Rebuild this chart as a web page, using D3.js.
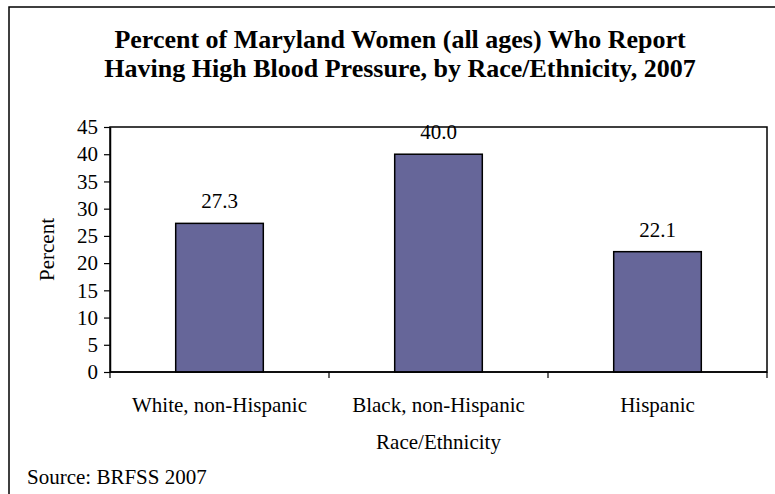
<!DOCTYPE html>
<html>
<head>
<meta charset="utf-8">
<script src="https://cdn.jsdelivr.net/npm/d3@7"></script>
<style>
  html, body { margin: 0; padding: 0; background: #fff; }
  svg text { font-family: "Liberation Serif", "Times New Roman", serif !important; fill: #000; }
</style>
</head>
<body>
<svg id="chart" width="775" height="494" font-family="Liberation Serif, serif"></svg>
<script>
const titleLines = ["Percent of Maryland Women (all ages) Who Report",
                    "Having High Blood Pressure, by Race/Ethnicity, 2007"];
const categories = ["White, non-Hispanic", "Black, non-Hispanic", "Hispanic"];
const values = [27.3, 40.0, 22.1];
const yTicks = [0, 5, 10, 15, 20, 25, 30, 35, 40, 45];
const yLabel = "Percent";
const xLabel = "Race/Ethnicity";
const sourceNote = "Source: BRFSS 2007";

const FONT = '"Liberation Serif", "Times New Roman", serif';
const svg = d3.select("#chart");
const plot = {left: 110, right: 767, top: 127, bottom: 372};

// outer chart frame (extends past right/bottom edges)
svg.append("rect")
  .attr("x", 9).attr("y", 7).attr("width", 820).attr("height", 520)
  .attr("fill", "#fff").attr("stroke", "#000").attr("stroke-width", 1.5);

// title
svg.append("g").selectAll("text").data(titleLines).join("text")
  .attr("x", 400).attr("y", (d, i) => 48 + i * 29)
  .attr("text-anchor", "middle")
  .style("font-family", FONT)
  .style("font-size", "26px").style("font-weight", "bold")
  .text(d => d);

const x = d3.scaleBand().domain(categories).range([plot.left, plot.right]).padding(0);
const y = d3.scaleLinear().domain([0, 45]).range([plot.bottom, plot.top]);

// plot frame
svg.append("rect")
  .attr("x", plot.left).attr("y", plot.top)
  .attr("width", plot.right - plot.left).attr("height", plot.bottom - plot.top)
  .attr("fill", "#fff").attr("stroke", "#000").attr("stroke-width", 1.5);

// bars
const barW = x.bandwidth() * 0.4;
svg.append("g").selectAll("rect").data(values).join("rect")
  .attr("x", (d, i) => x(categories[i]) + (x.bandwidth() - barW) / 2)
  .attr("y", d => y(d))
  .attr("width", barW)
  .attr("height", d => y(0) - y(d))
  .attr("fill", "#666699").attr("stroke", "#000").attr("stroke-width", 1.5);

// value labels
svg.append("g").selectAll("text").data(values).join("text")
  .attr("x", (d, i) => x(categories[i]) + x.bandwidth() / 2)
  .attr("y", d => y(d) - 15)
  .attr("text-anchor", "middle")
  .style("font-family", FONT)
  .style("font-size", "21px")
  .text(d => d.toFixed(1));

// y axis
const yAxis = svg.append("g")
  .attr("transform", `translate(${plot.left},0)`)
  .call(d3.axisLeft(y).tickValues(yTicks).tickSize(6).tickPadding(6).tickSizeOuter(0));
yAxis.attr("font-family", null).attr("font-size", null);
yAxis.select(".domain").attr("stroke", "#000").attr("stroke-width", 1.5);
yAxis.selectAll(".tick line").attr("stroke", "#000").attr("stroke-width", 1.2);
yAxis.selectAll(".tick text")
  .style("font-size", "21px").style("font-family", FONT);

// x axis: ticks at category boundaries
const boundaries = categories.map(c => x(c)).concat([x.range()[1]]);
const xAxis = svg.append("g").attr("transform", `translate(0,${plot.bottom})`);
xAxis.append("line")
  .attr("x1", plot.left).attr("x2", plot.right)
  .attr("stroke", "#000").attr("stroke-width", 1.5);
xAxis.selectAll("line.tk").data(boundaries).join("line").attr("class", "tk")
  .attr("x1", d => d).attr("x2", d => d).attr("y1", 0).attr("y2", 6)
  .attr("stroke", "#000").attr("stroke-width", 1.2);
xAxis.selectAll("text").data(categories).join("text")
  .attr("x", d => x(d) + x.bandwidth() / 2)
  .attr("y", 40)
  .attr("text-anchor", "middle")
  .style("font-family", FONT)
  .style("font-size", "21px")
  .text(d => d);

// axis titles
svg.append("text")
  .attr("transform", `translate(54,${(plot.top + plot.bottom) / 2}) rotate(-90)`)
  .attr("text-anchor", "middle")
  .style("font-family", FONT)
  .style("font-size", "21px")
  .text(yLabel);

svg.append("text")
  .attr("x", (plot.left + plot.right) / 2).attr("y", 449)
  .attr("text-anchor", "middle")
  .style("font-family", FONT)
  .style("font-size", "21px")
  .text(xLabel);

svg.append("text")
  .attr("x", 27).attr("y", 484)
  .style("font-family", FONT)
  .style("font-size", "21px")
  .text(sourceNote);
</script>
</body>
</html>
